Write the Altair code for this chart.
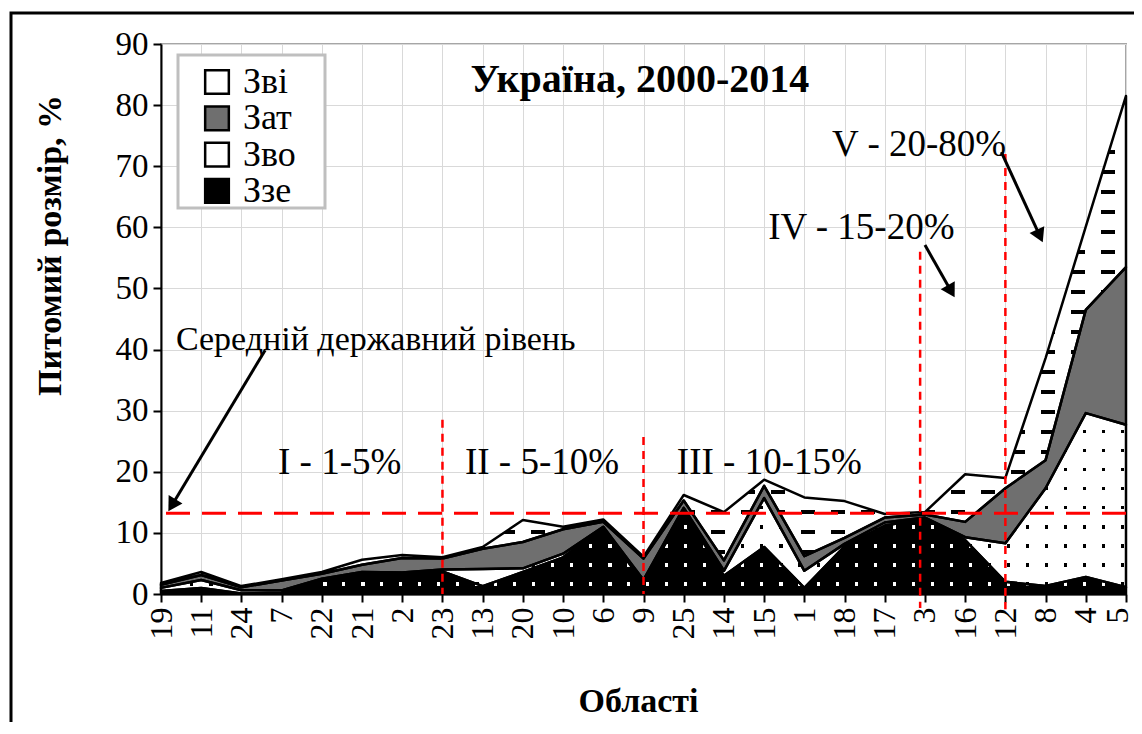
import math
import altair as alt
import pandas as pd

# ---------------- data ----------------
cats = ["19", "11", "24", "7", "22", "21", "2", "23", "13", "20", "10", "6", "9",
        "25", "14", "15", "1", "18", "17", "3", "16", "12", "8", "4", "5"]
zze = [0.5, 1.0, 0.1, 0.2, 2.3, 3.3, 3.3, 3.7, 1.3, 3.6, 6.0, 10.8, 1.8,
       13.6, 3.0, 7.7, 1.0, 7.8, 11.2, 12.3, 8.8, 2.0, 1.3, 2.8, 1.1]
zvo = [0.5, 1.3, 0.5, 0.4, 0.2, 0.3, 0.2, 0.3, 2.8, 0.6, 0.6, 0.2, 0.5,
       0.5, 0.8, 8.0, 2.8, 0.4, 0.5, 0.2, 0.5, 6.3, 16.0, 26.8, 26.6]
zat = [0.5, 0.8, 0.5, 1.6, 0.8, 1.2, 2.4, 1.8, 3.3, 4.3, 4.0, 0.8, 3.5,
       1.2, 1.7, 2.0, 2.4, 1.0, 0.8, 0.5, 2.5, 9.0, 4.6, 16.9, 25.8]
zvi = [0.3, 0.5, 0.2, 0.2, 0.3, 0.8, 0.5, 0.2, 0.3, 3.6, 0.4, 0.4, 0.3,
       0.9, 7.9, 1.0, 9.6, 6.0, 0.6, 0.4, 7.8, 1.7, 16.7, 13.6, 28.0]

avg_level = 13.2
zone_idx = [7, 12, 18.88, 21]
zone_top = [28.5, 25.7, 56.0, 72.0]
zone_bot = [0.0, 0.0, -2.3, -2.5]

title_text = "Україна, 2000-2014"
avg_note = "Середній державний рівень"
avg_note_x, avg_note_y = 0.37, 41.6
zone_notes = ["I - 1-5%", "II - 5-10%", "III - 10-15%", "IV - 15-20%", "V - 20-80%"]
zone_notes_x = [2.91, 7.56, 12.83, 15.1, 16.69]
zone_notes_y = [21.4, 21.4, 21.4, 59.9, 73.5]

arrow_x0 = [2.59, 19.0, 20.9]
arrow_y0 = [39.9, 57.1, 72.3]
arrow_x1 = [0.17, 19.75, 21.94]
arrow_y1 = [13.4, 48.4, 57.4]

legend_order = ["Зві", "Зат", "Зво", "Ззе"]
fill_colors = ["#ffffff", "#6f6f6f", "#ffffff", "#000000"]

# ---------------- layout / style ----------------
FONT = "Liberation Serif"
W, H = 965, 550
X_PX = W / 24
Y_PX = H / 90
CLEAR = "rgba(255,255,255,0)"

rows = []
for i, c in enumerate(cats):
    base = 0.0
    for name, vals in [("Ззе", zze), ("Зво", zvo), ("Зат", zat), ("Зві", zvi)]:
        rows.append(dict(idx=i, cat=c, series=name, lo=base, hi=base + vals[i]))
        base += vals[i]
df = pd.DataFrame(rows)

label_expr = "[" + ",".join("'%s'" % c for c in cats) + "][datum.value]"
xscale = alt.Scale(domain=[0, 24], nice=False, zero=False)
yscale = alt.Scale(domain=[0, 90], nice=False, zero=False)
xaxis = alt.Axis(values=list(range(25)), labelExpr=label_expr, grid=True,
                 labelOffset={"condition": {"test": "datum.value == 24", "value": -9},
                              "value": 0})
yaxis = alt.Axis(values=list(range(0, 91, 10)), grid=True)
XT = "Області"
YT = "Питомий розмір, %"


def X(f):
    return alt.X(f, scale=xscale, axis=xaxis, title=XT)


def Y(f):
    return alt.Y(f, scale=yscale, axis=yaxis, title=YT)


def stripes(span, period, band, col_band, col_rest, phase=0.0, vertical=True):
    """linear gradient of repeated bands (a fill texture)"""
    stops = [alt.GradientStop(offset=0, color=col_rest)]
    pos = phase - period
    while pos < span:
        a = max(pos, 0) / span
        b = min(pos + band, span) / span
        if b > a:
            stops += [alt.GradientStop(offset=a, color=col_rest),
                      alt.GradientStop(offset=a, color=col_band),
                      alt.GradientStop(offset=b, color=col_band),
                      alt.GradientStop(offset=b, color=col_rest)]
        pos += period
    stops.append(alt.GradientStop(offset=1, color=col_rest))
    if vertical:
        return alt.LinearGradient(gradient="linear", stops=stops, x1=0, x2=0, y1=0, y2=1)
    return alt.LinearGradient(gradient="linear", stops=stops, x1=0, x2=1, y1=0, y2=0)


ROW_PHASE, COL_PHASE = 6.0, 10.0


def textured(name, ink, paper, row_period, row_band, col_period, col_window):
    """ink marks (dots / dashes) on paper, aligned on one grid for the whole plot"""
    sub = df[df.series == name]
    top = H - max(sub.hi) * Y_PX
    span_y = (max(sub.hi) - min(sub.lo)) * Y_PX
    g_rows = stripes(span_y, row_period, row_band, ink, paper,
                     phase=(ROW_PHASE - top) % row_period, vertical=True)
    # mask: paper everywhere except the windows where the ink rows show
    g_cols = stripes(W, col_period, col_period - col_window, paper, CLEAR,
                     phase=(COL_PHASE + col_window) % col_period, vertical=False)
    a = alt.Chart(sub).mark_area(fill=g_rows).encode(x=X("idx:Q"), y=Y("hi:Q"), y2="lo:Q")
    b = alt.Chart(sub).mark_area(fill=g_cols).encode(x=X("idx:Q"), y=Y("hi:Q"), y2="lo:Q")
    return [a, b]


one = pd.DataFrame({"k": [0]})

frame = alt.Chart(one).mark_rect(fillOpacity=0, stroke="black", strokeWidth=3).encode(
    x=alt.value(-150), x2=alt.value(1300), y=alt.value(-31), y2=alt.value(900))

legend_box = alt.Chart(one).mark_rect(fill="white", stroke="#bfbfbf", strokeWidth=3).encode(
    x=alt.value(17), x2=alt.value(164), y=alt.value(11), y2=alt.value(164))

areas = alt.Chart(df).mark_area().encode(
    x=X("idx:Q"), y=Y("hi:Q"), y2="lo:Q",
    fill=alt.Fill("series:N",
                  scale=alt.Scale(domain=legend_order, range=fill_colors),
                  legend=alt.Legend(orient="none", legendX=38, legendY=20, title=None,
                                    symbolType="square", symbolSize=560,
                                    symbolStrokeColor="black", symbolStrokeWidth=2.5,
                                    symbolOpacity=1, labelFont=FONT, labelFontSize=36,
                                    labelColor="black", labelOffset=8, rowPadding=0.3,
                                    padding=0)))

# textures: dots on Ззе / Зво, dashes on Зві
tex = []
tex += textured("Ззе", "#ffffff", "#000000", 19, 3.5, 19, 3.5)
tex += textured("Зво", "#000000", "#ffffff", 19, 3.5, 19, 3.5)
tex += textured("Зві", "#000000", "#ffffff", 20, 4, 30, 14)

outlines = alt.Chart(df).mark_area(fillOpacity=0, stroke="black", strokeWidth=2.5,
                                   strokeJoin="round").encode(
    x=X("idx:Q"), y=Y("hi:Q"), y2="lo:Q", detail="series:N")

avg_rule = alt.Chart(pd.DataFrame({"v": [avg_level]})).mark_rule(
    color="#ff0000", strokeWidth=3, strokeDash=[24, 12]).encode(y=Y("v:Q"))

zones = alt.Chart(pd.DataFrame({"idx": zone_idx, "top": zone_top, "bot": zone_bot})).mark_rule(
    color="#ff0000", strokeWidth=2.5, strokeDash=[8, 6]).encode(
    x=X("idx:Q"), y=Y("top:Q"), y2="bot:Q")

# arrows
arow, heads = [], []
for k in range(len(arrow_x0)):
    dx = (arrow_x1[k] - arrow_x0[k]) * X_PX
    dy = -(arrow_y1[k] - arrow_y0[k]) * Y_PX
    L = math.hypot(dx, dy)
    ux, uy = dx / L, dy / L
    hx = arrow_x1[k] - 8 * ux / X_PX
    hy = arrow_y1[k] + 8 * uy / Y_PX
    ang = math.degrees(math.atan2(ux, -uy)) % 360
    arow.append(dict(a=k, o=0, idx=arrow_x0[k], v=arrow_y0[k]))
    arow.append(dict(a=k, o=1, idx=hx, v=hy))
    heads.append(dict(idx=hx, v=hy, ang=ang))

arrow_lines = alt.Chart(pd.DataFrame(arow)).mark_line(color="black", strokeWidth=3).encode(
    x=X("idx:Q"), y=Y("v:Q"), detail="a:N", order="o:Q")
arrow_heads = alt.Chart(pd.DataFrame(heads)).mark_point(
    shape="triangle-up", filled=True, color="black", opacity=1, size=260).encode(
    x=X("idx:Q"), y=Y("v:Q"), angle=alt.Angle("ang:Q", scale=None))

avg_text = alt.Chart(pd.DataFrame({"idx": [avg_note_x], "v": [avg_note_y], "t": [avg_note]})).mark_text(
    align="left", baseline="middle", font=FONT, fontSize=34, color="black").encode(
    x=X("idx:Q"), y=Y("v:Q"), text="t:N")

zone_text = alt.Chart(pd.DataFrame({"idx": zone_notes_x, "v": zone_notes_y, "t": zone_notes})).mark_text(
    align="left", baseline="middle", font=FONT, fontSize=37, color="black").encode(
    x=X("idx:Q"), y=Y("v:Q"), text="t:N")

title_mark = alt.Chart(pd.DataFrame({"idx": [11.91], "v": [84.1], "t": [title_text]})).mark_text(
    align="center", baseline="middle", font=FONT, fontSize=40, fontWeight="bold",
    color="black").encode(x=X("idx:Q"), y=Y("v:Q"), text="t:N")

chart = alt.layer(
    frame, legend_box, areas, *tex, outlines, avg_rule, zones, arrow_lines, arrow_heads,
    avg_text, zone_text, title_mark
).properties(
    width=W, height=H,
    padding={"left": 153, "top": 36, "right": 8, "bottom": 128},
    autosize=alt.AutoSizeParams(type="none"),
    background="white",
).configure_view(
    stroke="#a6a6a6", strokeWidth=2
).configure_axis(
    domainColor="black", domainWidth=2, tickColor="black", tickWidth=2, tickSize=8,
    labelFont=FONT, labelFontSize=32, labelColor="black", labelFlush=False,
    labelOverlap=False, gridColor="#d9d9d9", gridWidth=1,
    titleFont=FONT, titleFontSize=34, titleFontWeight="bold", titleColor="black"
).configure_axisY(
    labelPadding=5, labelFontSize=33, titleX=-111, titleY=201, titleAngle=270,
    titleAlign="center", titleBaseline="middle"
).configure_axisX(
    labelAngle=270, labelPadding=5, titleX=477, titleY=117, titleAlign="center",
    titleBaseline="alphabetic"
)

chart.save("out.html", embed_options={"renderer": "svg", "actions": False})
